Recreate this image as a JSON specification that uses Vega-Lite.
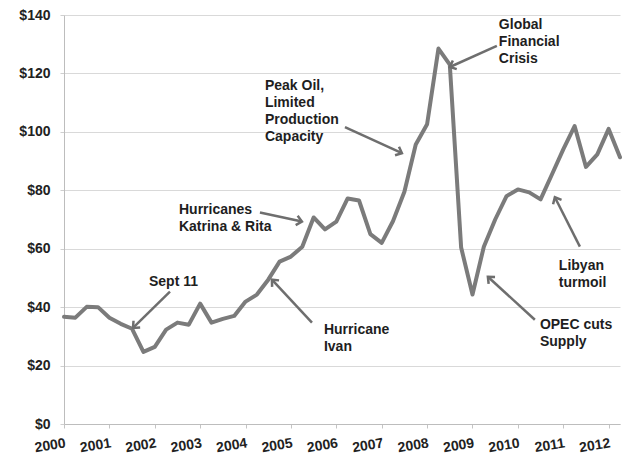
{
  "$schema": "https://vega.github.io/schema/vega-lite/v6.json",
  "width": 556,
  "height": 409,
  "autosize": {"type": "none"},
  "padding": {"left": 64, "top": 15, "right": 4, "bottom": 34},
  "background": "white",
  "config": {"view": {"stroke": null}, "font": "Liberation Sans"},
  "datasets": {
    "price": [
      {"t": 2000, "v": 36.7}, {"t": 2000.25, "v": 36.4}, {"t": 2000.5, "v": 40.1}, {"t": 2000.75, "v": 40.0},
      {"t": 2001, "v": 36.4}, {"t": 2001.25, "v": 34.3}, {"t": 2001.5, "v": 32.6}, {"t": 2001.75, "v": 24.7},
      {"t": 2002, "v": 26.4}, {"t": 2002.25, "v": 32.3}, {"t": 2002.5, "v": 34.7}, {"t": 2002.75, "v": 34.0},
      {"t": 2003, "v": 41.2}, {"t": 2003.25, "v": 34.7}, {"t": 2003.5, "v": 36.0}, {"t": 2003.75, "v": 37.0},
      {"t": 2004, "v": 41.9}, {"t": 2004.25, "v": 44.3}, {"t": 2004.5, "v": 49.4}, {"t": 2004.75, "v": 55.6},
      {"t": 2005, "v": 57.3}, {"t": 2005.25, "v": 60.7}, {"t": 2005.5, "v": 70.7}, {"t": 2005.75, "v": 66.6},
      {"t": 2006, "v": 69.3}, {"t": 2006.25, "v": 77.2}, {"t": 2006.5, "v": 76.5}, {"t": 2006.75, "v": 65.0},
      {"t": 2007, "v": 62.0}, {"t": 2007.25, "v": 69.5}, {"t": 2007.5, "v": 79.5}, {"t": 2007.75, "v": 95.7},
      {"t": 2008, "v": 102.6}, {"t": 2008.25, "v": 128.5}, {"t": 2008.5, "v": 123.0}, {"t": 2008.75, "v": 60.4},
      {"t": 2009, "v": 44.3}, {"t": 2009.25, "v": 60.7}, {"t": 2009.5, "v": 70.0}, {"t": 2009.75, "v": 78.0},
      {"t": 2010, "v": 80.3}, {"t": 2010.25, "v": 79.3}, {"t": 2010.5, "v": 76.9}, {"t": 2010.75, "v": 85.4},
      {"t": 2011, "v": 94.0}, {"t": 2011.25, "v": 102.0}, {"t": 2011.5, "v": 88.0}, {"t": 2011.75, "v": 92.3},
      {"t": 2012, "v": 101.0}, {"t": 2012.25, "v": 91.3}
    ],
    "notes": [
      {"label": "Peak Oil,\nLimited\nProduction\nCapacity", "t": 2004.427, "v": 118.0},
      {"label": "Global\nFinancial\nCrisis", "t": 2009.581, "v": 139.0},
      {"label": "Hurricanes\nKatrina & Rita", "t": 2002.533, "v": 75.8},
      {"label": "Sept 11", "t": 2001.872, "v": 51.1},
      {"label": "Hurricane\nIvan", "t": 2005.727, "v": 34.7},
      {"label": "OPEC cuts\nSupply", "t": 2010.485, "v": 36.4},
      {"label": "Libyan\nturmoil", "t": 2010.903, "v": 56.6}
    ],
    "arrows": [
      {"t": 2002.335, "v": 45.3, "t2": 2001.52, "v2": 32.9},
      {"t": 2004.317, "v": 72.4, "t2": 2005.242, "v2": 69.3},
      {"t": 2005.463, "v": 34.7, "t2": 2004.581, "v2": 49.4},
      {"t": 2006.19, "v": 101.6, "t2": 2007.445, "v2": 92.7},
      {"t": 2009.537, "v": 129.4, "t2": 2008.502, "v2": 122.2},
      {"t": 2010.374, "v": 35.7, "t2": 2009.339, "v2": 50.4},
      {"t": 2011.366, "v": 60.7, "t2": 2010.815, "v2": 77.6}
    ]
  },
  "layer": [
    {
      "data": {"name": "price"},
      "mark": {"type": "line", "color": "#7b7b7b", "strokeWidth": 4, "strokeJoin": "round", "strokeCap": "round"},
      "encoding": {
        "x": {
          "field": "t", "type": "quantitative",
          "scale": {"domain": [2000, 2012.25], "nice": false, "zero": false},
          "axis": {
            "values": [2000, 2000.25, 2000.5, 2000.75, 2001, 2001.25, 2001.5, 2001.75, 2002, 2002.25, 2002.5, 2002.75, 2003, 2003.25, 2003.5, 2003.75, 2004, 2004.25, 2004.5, 2004.75, 2005, 2005.25, 2005.5, 2005.75, 2006, 2006.25, 2006.5, 2006.75, 2007, 2007.25, 2007.5, 2007.75, 2008, 2008.25, 2008.5, 2008.75, 2009, 2009.25, 2009.5, 2009.75, 2010, 2010.25, 2010.5, 2010.75, 2011, 2011.25, 2011.5, 2011.75, 2012, 2012.25],
            "labelExpr": "datum.value % 1 === 0 ? '' + datum.value : ''",
            "labelAngle": -9,
            "labelAlign": "right",
            "labelBaseline": "top",
            "labelFontSize": 14,
            "labelFontWeight": "bold",
            "labelColor": "#222222",
            "labelPadding": 8,
            "labelOverlap": false,
            "labelFlush": false,
            "labelBound": false,
            "tickSize": 4,
            "tickColor": "#c4c4c4",
            "domainColor": "#bdbdbd",
            "grid": false,
            "title": null
          }
        },
        "y": {
          "field": "v", "type": "quantitative",
          "scale": {"domain": [0, 140], "nice": false},
          "axis": {
            "values": [0, 20, 40, 60, 80, 100, 120, 140],
            "labelExpr": "'$' + datum.value",
            "labelFontSize": 14,
            "labelFontWeight": "bold",
            "labelColor": "#222222",
            "labelPadding": 10,
            "tickSize": 4,
            "tickColor": "#cfcfcf",
            "domainColor": "#bdbdbd",
            "grid": true,
            "gridColor": "#d9d9d9",
            "title": null
          }
        }
      }
    },
    {
      "data": {"name": "arrows"},
      "mark": {"type": "rule", "color": "#6e6e6e", "strokeWidth": 2.5},
      "encoding": {
        "x": {"field": "t", "type": "quantitative"},
        "y": {"field": "v", "type": "quantitative"},
        "x2": {"field": "t2"},
        "y2": {"field": "v2"}
      }
    },
    {
      "data": {"name": "arrows"},
      "transform": [{"calculate": "atan2((datum.t2 - datum.t) * 45.4, (datum.v2 - datum.v) * 2.914) * 180 / PI", "as": "angle"}],
      "mark": {"type": "point", "shape": "M-0.75,0.85L0,0L0.75,0.85", "filled": false, "stroke": "#6e6e6e", "strokeWidth": 2.5, "size": 160, "opacity": 1},
      "encoding": {
        "x": {"field": "t2", "type": "quantitative"},
        "y": {"field": "v2", "type": "quantitative"},
        "angle": {"field": "angle", "type": "quantitative", "scale": null}
      }
    },
    {
      "data": {"name": "notes"},
      "mark": {"type": "text", "align": "left", "baseline": "top", "fontWeight": "bold", "fontSize": 14, "lineHeight": 17, "lineBreak": "\n", "color": "#1e1e1e"},
      "encoding": {
        "x": {"field": "t", "type": "quantitative"},
        "y": {"field": "v", "type": "quantitative"},
        "text": {"field": "label"}
      }
    }
  ]
}
